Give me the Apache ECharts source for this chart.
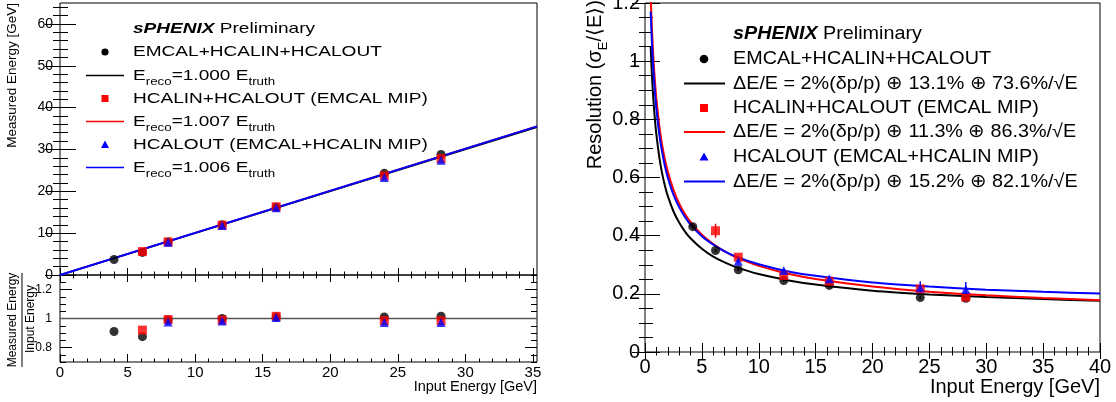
<!DOCTYPE html>
<html>
<head>
<meta charset="utf-8">
<script src="https://cdn.jsdelivr.net/npm/echarts@6/dist/echarts.min.js"></script>
<style>html,body{margin:0;padding:0;background:#fff}#c{width:1116px;height:402px}</style>
</head>
<body>
<div id="c"></div>
<script>
// ---------------- DATA ----------------
// Left panel: linearity (measured vs input energy)
const leftE      = [4.0, 6.1, 8.0, 12.0, 16.0, 24.0, 28.2];
const measBlack  = [3.7, 5.4, 7.9, 12.0, 16.2, 24.3, 28.8];
const measRed    = [null, 5.6, 7.9, 11.9, 16.3, 23.7, 27.8];
const measBlue   = [null, null, 7.8, 11.8, 16.1, 23.3, 27.4];
const ratioBlack = [0.91, 0.875, 0.99, 1.0, 1.01, 1.01, 1.016];
const ratioRed   = [null, 0.92, 0.993, 0.99, 1.015, 0.985, 0.985];
const ratioBlue  = [null, null, 0.976, 0.983, 1.007, 0.972, 0.972];
const fitX       = [0, 35.3];
const fitBlack   = [0, 35.3];
const fitRed     = [0, 35.55];
const fitBlue    = [0, 35.51];
const ratioRefX  = [0, 35.3];
const ratioRefY  = [1, 1];
const leftXTicks = [0, 5, 10, 15, 20, 25, 30, 35];
const leftYTicks = [0, 10, 20, 30, 40, 50, 60];
const ratioTicks = [0.8, 1, 1.2];

// Right panel: resolution vs input energy
const rightE   = [4.2, 6.2, 8.2, 12.2, 16.2, 24.2, 28.2];
const resBlack = [0.431, 0.349, 0.283, 0.246, 0.229, 0.187, 0.185];
const resRed   = [null, 0.417, 0.326, 0.263, 0.243, 0.217, 0.189];
const resBlue  = [null, null, 0.312, 0.280, 0.252, 0.221, 0.215];
const errBlack = [0.005, 0.005, 0.005, 0.004, 0.004, 0.005, 0.005];
const errRed   = [null, 0.024, 0.007, 0.005, 0.005, 0.006, 0.006];
const errBlue  = [null, null, 0.008, 0.006, 0.006, 0.022, 0.026];
const curveE     = [0.5, 0.55, 0.6, 0.7, 0.8, 0.9, 1, 1.25, 1.5, 1.75, 2, 2.5, 3, 3.5, 4, 5, 6, 7, 8, 10, 12.5, 15, 20, 25, 30, 35, 40];
const curveBlack = [1.049, 1.001, 0.959, 0.890, 0.834, 0.787, 0.748, 0.672, 0.615, 0.572, 0.537, 0.484, 0.445, 0.415, 0.391, 0.355, 0.328, 0.308, 0.292, 0.268, 0.247, 0.232, 0.211, 0.198, 0.189, 0.182, 0.176];
const curveRed   = [1.226, 1.169, 1.120, 1.038, 0.972, 0.917, 0.871, 0.780, 0.714, 0.662, 0.621, 0.558, 0.511, 0.475, 0.447, 0.403, 0.371, 0.346, 0.326, 0.296, 0.270, 0.251, 0.225, 0.207, 0.195, 0.186, 0.178];
const curveBlue  = [1.171, 1.118, 1.071, 0.993, 0.931, 0.879, 0.835, 0.750, 0.688, 0.639, 0.600, 0.541, 0.498, 0.465, 0.438, 0.398, 0.369, 0.346, 0.328, 0.302, 0.278, 0.262, 0.239, 0.225, 0.214, 0.207, 0.201];

// Legend texts
const leftLegend = [
  'EMCAL+HCALIN+HCALOUT', 'E{s|reco}=1.000 E{s|truth}',
  'HCALIN+HCALOUT (EMCAL MIP)', 'E{s|reco}=1.007 E{s|truth}',
  'HCALOUT (EMCAL+HCALIN MIP)', 'E{s|reco}=1.006 E{s|truth}'
];
const rightLegend = [
  'EMCAL+HCALIN+HCALOUT', 'ΔE/E = 2%(δp/p) ⊕ 13.1% ⊕ 73.6%/√E',
  'HCALIN+HCALOUT (EMCAL MIP)', 'ΔE/E = 2%(δp/p) ⊕ 11.3% ⊕ 86.3%/√E',
  'HCALOUT (EMCAL+HCALIN MIP)', 'ΔE/E = 2%(δp/p) ⊕ 15.2% ⊕ 82.1%/√E'
];

// ---------------- HELPERS ----------------
const FONT = "'Liberation Sans', Arial, Helvetica, sans-serif";
const pairs = (xs, ys) => xs.map((x, i) => ys[i] == null ? null : [x, ys[i]]).filter(Boolean);
const triples = (xs, ys, es) => xs.map((x, i) => ys[i] == null ? null : [x, ys[i], es[i]]).filter(Boolean);

function valAxis(o) {
  return {
    type: 'value', gridIndex: o.grid, position: o.pos, min: o.min, max: o.max, interval: o.interval,
    axisLine: { show: false }, splitLine: { show: false }, minorSplitLine: { show: false },
    axisTick: { show: true, inside: true, length: o.major, lineStyle: { color: '#000', width: 1 }, customValues: o.tickValues },
    minorTick: { show: !!o.minor, splitNumber: o.split || 5, length: o.minor || 0, lineStyle: { color: '#000', width: 1 } },
    axisLabel: o.labels ? { show: true, customValues: o.labels === true ? undefined : o.labels, fontSize: o.fontSize, color: '#000', fontFamily: FONT, margin: o.margin, formatter: o.formatter } : { show: false }
  };
}
const fmt = v => (Math.abs(v - Math.round(v)) < 1e-9 ? String(Math.round(v)) : v.toFixed(1));

function errBars(xi, yi, data, color) {
  return {
    type: 'custom', xAxisIndex: xi, yAxisIndex: yi, data: data, z: 3, silent: true,
    renderItem: function (params, api) {
      const x = api.value(0), y = api.value(1), e = api.value(2);
      const p1 = api.coord([x, y - e]), p2 = api.coord([x, y + e]);
      return { type: 'line', shape: { x1: p1[0], y1: p1[1], x2: p2[0], y2: p2[1] }, style: { stroke: color, lineWidth: 1.5 } };
    }
  };
}

// ---------------- GRAPHIC (titles + legends) ----------------
const graphics = [];
graphics.push({ type: 'text', x: 12, y: 3, rotation: Math.PI / 2, style: { text: 'Measured Energy [GeV]', fontSize: 13.5, fontFamily: FONT, fill: '#000', align: 'right', verticalAlign: 'middle' } });
graphics.push({ type: 'text', x: 13, y: 320, rotation: Math.PI / 2, style: { text: 'Measured Energy', fontSize: 12, fontFamily: FONT, fill: '#000', align: 'center', verticalAlign: 'middle' } });
graphics.push({ type: 'line', shape: { x1: 22, y1: 273, x2: 22, y2: 367 }, style: { stroke: '#000', lineWidth: 1 } });
graphics.push({ type: 'text', x: 30.5, y: 319, rotation: Math.PI / 2, style: { text: 'Input Energy', fontSize: 12, fontFamily: FONT, fill: '#000', align: 'center', verticalAlign: 'middle' } });
graphics.push({ type: 'text', x: 537, y: 387, style: { text: 'Input Energy [GeV]', fontSize: 14.5, fontFamily: FONT, fill: '#000', align: 'right', verticalAlign: 'middle' } });
graphics.push({ type: 'text', x: 595, y: 0, rotation: Math.PI / 2, style: { text: 'Resolution (σ{s|E}/⟨E⟩)', fontSize: 20, fontFamily: FONT, fill: '#000', align: 'right', verticalAlign: 'middle', lineHeight: 30, rich: { s: { fontSize: 13, fontFamily: FONT, fill: '#000', verticalAlign: 'bottom', lineHeight: 30 } } } });
graphics.push({ type: 'text', x: 1100, y: 387, style: { text: 'Input Energy [GeV]', fontSize: 20, fontFamily: FONT, fill: '#000', align: 'right', verticalAlign: 'middle' } });

// left legend
const LR = [29, 52, 75.5, 98.5, 121.5, 144.5, 167.5];
const lsx = 1.27;
graphics.push({ type: 'text', x: 133, y: LR[0], scaleX: lsx, style: { text: '{b|sPHENIX} Preliminary', fontSize: 15, fontFamily: FONT, fill: '#000', verticalAlign: 'middle', rich: { b: { fontSize: 15, fontFamily: FONT, fontWeight: 'bold', fontStyle: 'italic', fill: '#000' } } } });
leftLegend.forEach((t, i) => {
  graphics.push({ type: 'text', x: 133, y: LR[i + 1], scaleX: lsx, style: { text: t, fontSize: 15, fontFamily: FONT, fill: '#000', verticalAlign: 'middle', lineHeight: 24, rich: { s: { fontSize: 10.5, fontFamily: FONT, fill: '#000', verticalAlign: 'bottom', lineHeight: 24 } } } });
});
graphics.push({ type: 'circle', shape: { cx: 105, cy: LR[1], r: 3.6 }, style: { fill: '#000' } });
graphics.push({ type: 'line', shape: { x1: 86, y1: LR[2], x2: 124, y2: LR[2] }, style: { stroke: '#000', lineWidth: 1.5 } });
graphics.push({ type: 'rect', shape: { x: 101.5, y: LR[3] - 3.5, width: 7, height: 7 }, style: { fill: '#ff0000' } });
graphics.push({ type: 'line', shape: { x1: 86, y1: LR[4], x2: 124, y2: LR[4] }, style: { stroke: '#ff0000', lineWidth: 1.5 } });
graphics.push({ type: 'polygon', shape: { points: [[105, LR[5] - 4], [109, LR[5] + 3.5], [101, LR[5] + 3.5]] }, style: { fill: '#0000ff' } });
graphics.push({ type: 'line', shape: { x1: 86, y1: LR[6], x2: 124, y2: LR[6] }, style: { stroke: '#0000ff', lineWidth: 1.5 } });

// right legend
const RR = [33.5, 59, 83.5, 108, 132, 157, 181.5];
const rsx = 1.04;
graphics.push({ type: 'text', x: 733, y: RR[0], scaleX: rsx, style: { text: '{b|sPHENIX} Preliminary', fontSize: 19, fontFamily: FONT, fill: '#000', verticalAlign: 'middle', rich: { b: { fontSize: 19, fontFamily: FONT, fontWeight: 'bold', fontStyle: 'italic', fill: '#000' } } } });
rightLegend.forEach((t, i) => {
  graphics.push({ type: 'text', x: 733, y: RR[i + 1], scaleX: rsx, style: { text: t, fontSize: 19, fontFamily: FONT, fill: '#000', verticalAlign: 'middle' } });
});
graphics.push({ type: 'circle', shape: { cx: 704, cy: RR[1], r: 4.3 }, style: { fill: '#000' } });
graphics.push({ type: 'line', shape: { x1: 684, y1: RR[2], x2: 725, y2: RR[2] }, style: { stroke: '#000', lineWidth: 2 } });
graphics.push({ type: 'rect', shape: { x: 700, y: RR[3] - 4, width: 8, height: 8 }, style: { fill: '#ff0000' } });
graphics.push({ type: 'line', shape: { x1: 684, y1: RR[4], x2: 725, y2: RR[4] }, style: { stroke: '#ff0000', lineWidth: 2 } });
graphics.push({ type: 'polygon', shape: { points: [[704, RR[5] - 4.5], [708.5, RR[5] + 3.5], [699.5, RR[5] + 3.5]] }, style: { fill: '#0000ff' } });
graphics.push({ type: 'line', shape: { x1: 684, y1: RR[6], x2: 725, y2: RR[6] }, style: { stroke: '#0000ff', lineWidth: 2 } });

// ---------------- OPTION ----------------
const gridBase = { show: true, borderColor: '#000', borderWidth: 1, backgroundColor: 'transparent', containLabel: false, outerBoundsMode: 'none' };
const option = {
  animation: false,
  textStyle: { fontFamily: FONT },
  grid: [
    Object.assign({ left: 60, top: 3, width: 477, height: 272 }, gridBase),
    Object.assign({ left: 60, top: 275, width: 477, height: 87 }, gridBase),
    Object.assign({ left: 645, top: 3, width: 455, height: 349 }, gridBase)
  ],
  xAxis: [
    valAxis({ grid: 0, pos: 'bottom', min: 0, max: 35.3, interval: 5, major: 7, minor: 3.5, split: 5, tickValues: leftXTicks }),
    valAxis({ grid: 0, pos: 'top', min: 0, max: 35.3, interval: 5, major: 7, minor: 3.5, split: 5, tickValues: leftXTicks }),
    valAxis({ grid: 1, pos: 'bottom', min: 0, max: 35.3, interval: 5, major: 8, minor: 3.5, split: 5, tickValues: leftXTicks, labels: leftXTicks, fontSize: 15, margin: 3, formatter: fmt }),
    valAxis({ grid: 2, pos: 'bottom', min: 0, max: 40, interval: 5, major: 9, minor: 5, split: 5, labels: true, fontSize: 20, margin: 5, formatter: fmt }),
    valAxis({ grid: 2, pos: 'top', min: 0, max: 40, interval: 5, major: 7, minor: 3.5, split: 5 })
  ],
  yAxis: [
    valAxis({ grid: 0, pos: 'left', min: 0, max: 65, interval: 10, major: 16, minor: 8, split: 5, tickValues: leftYTicks, labels: leftYTicks, fontSize: 14, margin: 7, formatter: fmt }),
    valAxis({ grid: 0, pos: 'right', min: 0, max: 65, interval: 10, major: 15, minor: 7, split: 5, tickValues: leftYTicks }),
    valAxis({ grid: 1, pos: 'left', min: 0.7, max: 1.3, interval: 0.1, major: 12, tickValues: ratioTicks, labels: ratioTicks, fontSize: 12, margin: 8, formatter: fmt }),
    valAxis({ grid: 1, pos: 'left', min: 0.7, max: 1.3, interval: 0.05, major: 6 }),
    valAxis({ grid: 1, pos: 'right', min: 0.7, max: 1.3, interval: 0.1, major: 12, tickValues: ratioTicks }),
    valAxis({ grid: 1, pos: 'right', min: 0.7, max: 1.3, interval: 0.05, major: 6 }),
    valAxis({ grid: 2, pos: 'left', min: 0, max: 1.2, interval: 0.2, major: 15, minor: 8, split: 4, labels: true, fontSize: 20, margin: 5, formatter: fmt }),
    valAxis({ grid: 2, pos: 'right', min: 0, max: 1.2, interval: 0.2, major: 13, minor: 6, split: 4 })
  ],
  graphic: graphics,
  series: [
    { type: 'line', xAxisIndex: 0, yAxisIndex: 0, data: pairs(fitX, fitBlack), symbol: 'none', lineStyle: { color: '#000', width: 1.5 }, z: 2, silent: true },
    { type: 'line', xAxisIndex: 0, yAxisIndex: 0, data: pairs(fitX, fitRed), symbol: 'none', lineStyle: { color: '#ff0000', width: 1.5 }, z: 2, silent: true },
    { type: 'line', xAxisIndex: 0, yAxisIndex: 0, data: pairs(fitX, fitBlue), symbol: 'none', lineStyle: { color: '#0000ff', width: 2 }, z: 2, silent: true },
    { type: 'scatter', xAxisIndex: 0, yAxisIndex: 0, data: pairs(leftE, measBlack), symbol: 'circle', symbolSize: 9, itemStyle: { color: '#000' }, z: 4 },
    { type: 'scatter', xAxisIndex: 0, yAxisIndex: 0, data: pairs(leftE, measRed), symbol: 'rect', symbolSize: 9, itemStyle: { color: '#ff0000' }, z: 5 },
    { type: 'scatter', xAxisIndex: 0, yAxisIndex: 0, data: pairs(leftE, measBlue), symbol: 'triangle', symbolSize: 9, itemStyle: { color: '#0000ff' }, z: 6 },
    { type: 'line', xAxisIndex: 2, yAxisIndex: 2, data: pairs(ratioRefX, ratioRefY), symbol: 'none', lineStyle: { color: '#555', width: 1.5 }, z: 2, silent: true },
    { type: 'scatter', xAxisIndex: 2, yAxisIndex: 2, data: pairs(leftE, ratioBlack), symbol: 'circle', symbolSize: 9, itemStyle: { color: '#000' }, z: 4 },
    { type: 'scatter', xAxisIndex: 2, yAxisIndex: 2, data: pairs(leftE, ratioRed), symbol: 'rect', symbolSize: 9, itemStyle: { color: '#ff0000' }, z: 5 },
    { type: 'scatter', xAxisIndex: 2, yAxisIndex: 2, data: pairs(leftE, ratioBlue), symbol: 'triangle', symbolSize: 9, itemStyle: { color: '#0000ff' }, z: 6 },
    { type: 'line', xAxisIndex: 3, yAxisIndex: 6, data: pairs(curveE, curveBlack), symbol: 'none', smooth: 0.2, lineStyle: { color: '#000', width: 2 }, z: 2, silent: true, clip: true },
    { type: 'line', xAxisIndex: 3, yAxisIndex: 6, data: pairs(curveE, curveRed), symbol: 'none', smooth: 0.2, lineStyle: { color: '#ff0000', width: 2 }, z: 2, silent: true, clip: true },
    { type: 'line', xAxisIndex: 3, yAxisIndex: 6, data: pairs(curveE, curveBlue), symbol: 'none', smooth: 0.2, lineStyle: { color: '#0000ff', width: 2 }, z: 2, silent: true, clip: true },
    errBars(3, 6, triples(rightE, resBlack, errBlack), '#000'),
    errBars(3, 6, triples(rightE, resRed, errRed), '#ff0000'),
    errBars(3, 6, triples(rightE, resBlue, errBlue), '#0000ff'),
    { type: 'scatter', xAxisIndex: 3, yAxisIndex: 6, data: pairs(rightE, resBlack), symbol: 'circle', symbolSize: 9, itemStyle: { color: '#000' }, z: 4 },
    { type: 'scatter', xAxisIndex: 3, yAxisIndex: 6, data: pairs(rightE, resRed), symbol: 'rect', symbolSize: 9, itemStyle: { color: '#ff0000' }, z: 5 },
    { type: 'scatter', xAxisIndex: 3, yAxisIndex: 6, data: pairs(rightE, resBlue), symbol: 'triangle', symbolSize: 9, itemStyle: { color: '#0000ff' }, z: 6 }
  ]
};

const chart = echarts.init(document.getElementById('c'), null, { renderer: 'canvas' });
chart.setOption(option);
</script>
</body>
</html>
